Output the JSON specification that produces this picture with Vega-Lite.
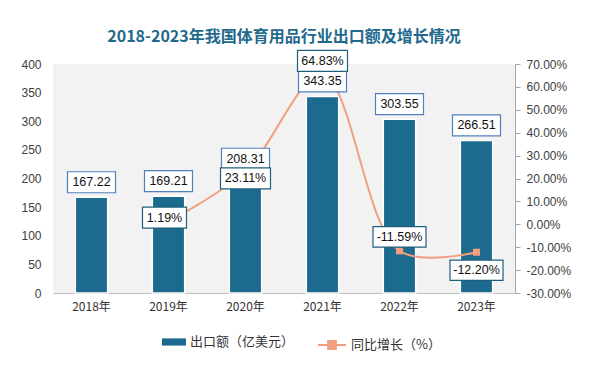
{
  "$schema": "https://vega.github.io/schema/vega-lite/v6.json",
  "width": 462,
  "height": 229,
  "autosize": {"type": "none"},
  "padding": {"left": 53, "top": 64, "right": 78, "bottom": 76},
  "background": "white",
  "config": {
    "font": "Noto Sans CJK SC",
    "view": {"fill": "#f2f2f2", "stroke": null},
    "axis": {"labelFont": "Liberation Sans", "labelFontSize": 12, "labelColor": "#404040", "grid": false, "title": null},
    "legend": {"orient": "none", "direction": "horizontal", "labelFontSize": 13, "labelColor": "#333333", "labelFont": "Noto Sans CJK SC", "title": null}
  },
  "title": {"text": "2018-2023年我国体育用品行业出口额及增长情况", "fontSize": 16, "fontWeight": "bold", "color": "#1f6a8c", "anchor": "middle", "offset": 3, "font": "Noto Sans CJK SC"},
  "data": {
    "values": [
      {"year": "2018年", "value": 167.22, "growth": null},
      {"year": "2019年", "value": 169.21, "growth": 1.19},
      {"year": "2020年", "value": 208.31, "growth": 23.11},
      {"year": "2021年", "value": 343.35, "growth": 64.83},
      {"year": "2022年", "value": 303.55, "growth": -11.59},
      {"year": "2023年", "value": 266.51, "growth": -12.20}
    ]
  },
  "encoding": {
    "x": {
      "field": "year", "type": "nominal", "sort": null,
      "scale": {"paddingInner": 0, "paddingOuter": 0},
      "axis": {"labelAngle": 0, "domainColor": "#bfbfbf", "ticks": false, "labelPadding": 8, "labelFont": "Noto Sans CJK SC", "labelColor": "#333333"}
    }
  },
  "layer": [
    {
      "encoding": {
        "y": {"field": "value", "type": "quantitative", "scale": {"domain": [0, 400]},
          "axis": {"orient": "left", "values": [0, 50, 100, 150, 200, 250, 300, 350, 400], "domain": false, "ticks": false, "labelPadding": 12}}
      },
      "layer": [
        {
          "mark": {"type": "bar", "width": {"band": 0.42}, "stroke": "white", "strokeWidth": 1.5},
          "encoding": {
            "fill": {"datum": "出口额（亿美元）", "type": "nominal", "scale": {"range": ["#1c6a8e"]},
              "legend": {"symbolType": "M-1,-0.3L1,-0.3L1,0.3L-1,0.3Z", "symbolSize": 576, "symbolStrokeWidth": 0, "legendX": 109, "legendY": 266}}
          }
        }
      ]
    },
    {
      "transform": [{"filter": "datum.growth != null"}],
      "encoding": {
        "y": {"field": "growth", "type": "quantitative", "scale": {"domain": [-30, 70]},
          "axis": {"orient": "right", "values": [-30, -20, -10, 0, 10, 20, 30, 40, 50, 60, 70], "labelExpr": "replace(format(datum.value, '.2f'), '\u2212', '-') + '%'", "domain": true, "domainColor": "#a6a6a6", "ticks": true, "tickColor": "#a6a6a6", "tickSize": 5, "labelPadding": 6}}
      },
      "layer": [
        {
          "mark": {"type": "line", "interpolate": "catmull-rom", "strokeWidth": 2},
          "encoding": {
            "stroke": {"datum": "同比增长（%）", "type": "nominal", "scale": {"range": ["#f0a080"]},
              "legend": {"symbolType": "M-1,0L1,0M-0.28,-0.28L0.28,-0.28L0.28,0.28L-0.28,0.28Z", "symbolSize": 784, "symbolStrokeWidth": 2, "symbolFillColor": "#f0a080", "legendX": 264, "legendY": 266}}
          }
        },
        {
          "mark": {"type": "point", "shape": "square", "size": 50, "filled": true, "fill": "#f0a080", "opacity": 1}
        }
      ]
    },
    {
      "encoding": {
        "y": {"field": "value", "type": "quantitative", "scale": {"domain": [0, 400]}, "axis": null}
      },
      "layer": [
        {"mark": {"type": "point", "shape": "M-1,-0.4375L1,-0.4375L1,0.4375L-1,0.4375Z", "size": 2304, "filled": true, "fill": "white", "stroke": "#4f81bd", "strokeWidth": 1.2, "opacity": 1, "yOffset": -15}},
        {"mark": {"type": "text", "fontSize": 12.5, "color": "#111111", "baseline": "middle", "yOffset": -15, "font": "Liberation Sans"},
          "encoding": {"text": {"field": "value", "type": "quantitative", "format": ".2f"}}}
      ]
    },
    {
      "transform": [{"filter": "datum.growth != null"}, {"calculate": "replace(format(datum.growth, '.2f'), '\u2212', '-') + '%'", "as": "glabel"}],
      "encoding": {
        "y": {"field": "growth", "type": "quantitative", "scale": {"domain": [-30, 70]}, "axis": null}
      },
      "layer": [
        {
          "transform": [{"filter": "datum.year == '2021年'"}],
          "layer": [
            {"mark": {"type": "point", "shape": "M-1,-0.42L1,-0.42L1,0.42L-1,0.42Z", "size": 2500, "filled": true, "fill": "white", "stroke": "#1f5f7e", "strokeWidth": 1.2, "opacity": 1, "yOffset": -15}},
            {"mark": {"type": "text", "fontSize": 12.5, "color": "#111111", "baseline": "middle", "yOffset": -15, "font": "Liberation Sans"}, "encoding": {"text": {"field": "glabel"}}}
          ]
        },
        {
          "transform": [{"filter": "datum.year == '2022年'"}],
          "layer": [
            {"mark": {"type": "point", "shape": "M-1,-0.385L1,-0.385L1,0.385L-1,0.385Z", "size": 2809, "filled": true, "fill": "white", "stroke": "#1f5f7e", "strokeWidth": 1.2, "opacity": 1, "yOffset": -14}},
            {"mark": {"type": "text", "fontSize": 12.5, "color": "#111111", "baseline": "middle", "yOffset": -14, "font": "Liberation Sans"}, "encoding": {"text": {"field": "glabel"}}}
          ]
        },
        {
          "transform": [{"filter": "datum.year == '2023年'"}],
          "layer": [
            {"mark": {"type": "point", "shape": "M-1,-0.385L1,-0.385L1,0.385L-1,0.385Z", "size": 2809, "filled": true, "fill": "white", "stroke": "#1f5f7e", "strokeWidth": 1.2, "opacity": 1, "yOffset": 18}},
            {"mark": {"type": "text", "fontSize": 12.5, "color": "#111111", "baseline": "middle", "yOffset": 18, "font": "Liberation Sans"}, "encoding": {"text": {"field": "glabel"}}}
          ]
        },
        {
          "transform": [{"filter": "datum.year == '2020年'"}],
          "layer": [
            {"mark": {"type": "point", "shape": "M-1,-0.42L1,-0.42L1,0.42L-1,0.42Z", "size": 2500, "filled": true, "fill": "white", "stroke": "#1f5f7e", "strokeWidth": 1.2, "opacity": 1, "yOffset": 7}},
            {"mark": {"type": "text", "fontSize": 12.5, "color": "#111111", "baseline": "middle", "yOffset": 7, "font": "Liberation Sans"}, "encoding": {"text": {"field": "glabel"}}}
          ]
        },
        {
          "transform": [{"filter": "datum.year == '2019年'"}],
          "layer": [
            {"mark": {"type": "point", "shape": "M-1,-0.4773L1,-0.4773L1,0.4773L-1,0.4773Z", "size": 1936, "filled": true, "fill": "white", "stroke": "#1f5f7e", "strokeWidth": 1.2, "opacity": 1, "yOffset": -4, "xOffset": -4}},
            {"mark": {"type": "text", "fontSize": 12.5, "color": "#111111", "baseline": "middle", "yOffset": -4, "xOffset": -4, "font": "Liberation Sans"}, "encoding": {"text": {"field": "glabel"}}}
          ]
        }
      ]
    }
  ],
  "resolve": {"scale": {"y": "independent", "fill": "independent", "stroke": "independent"}}
}
